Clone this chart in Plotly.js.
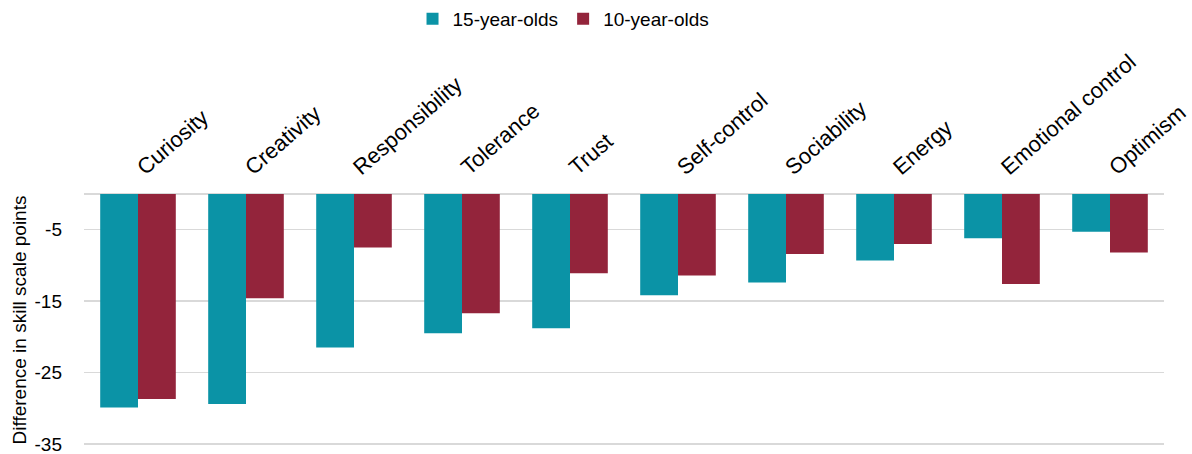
<!DOCTYPE html>
<html>
<head>
<meta charset="utf-8">
<script src="https://cdn.plot.ly/plotly-3.0.1.min.js"></script>
<style>
  html, body { margin: 0; padding: 0; background: #ffffff; }
  #chart { width: 1192px; height: 454px; }
</style>
</head>
<body>
<div id="chart"></div>
<script>
// Skill categories along the top axis
const skills = ['Curiosity', 'Creativity', 'Responsibility', 'Tolerance', 'Trust',
  'Self-control', 'Sociability', 'Energy', 'Emotional control', 'Optimism'];

// Difference in skill scale points, by age cohort
const olds15 = [-29.9, -29.4, -21.5, -19.5, -18.8, -14.2, -12.4, -9.3, -6.2, -5.3];
const olds10 = [-28.7, -14.6, -7.5, -16.7, -11.1, -11.4, -8.4, -7.0, -12.6, -8.2];

// Value-axis ticks, written with a plain hyphen
const yTickVals = [-5, -15, -25, -35];
const yTickText = ['-5', '-15', '-25', '-35'];

const seriesNames = ['15-year-olds', '10-year-olds'];
const yTitle = 'Difference in skill scale points';

const FONT = '"Liberation Sans Narrow", "Arial Narrow", "Liberation Sans", Arial, sans-serif';
const FS = 19;
const TEAL = '#0b93a6';
const WINE = '#93243b';
const GRID = '#d9d9d9';

const traces = [
  { type: 'bar', name: seriesNames[0], x: skills, y: olds15,
    marker: { color: TEAL, line: { width: 0 } }, hoverinfo: 'x+y' },
  { type: 'bar', name: seriesNames[1], x: skills, y: olds10,
    marker: { color: WINE, line: { width: 0 } }, hoverinfo: 'x+y' }
];

const layout = {
  width: 1192,
  height: 454,
  margin: { l: 84, r: 28, t: 194, b: 8, pad: 0 },
  paper_bgcolor: '#ffffff',
  plot_bgcolor: '#ffffff',
  font: { family: FONT, size: FS, color: '#000000' },
  barmode: 'group',
  bargap: 0.3,
  bargroupgap: 0,
  showlegend: true,
  legend: {
    orientation: 'h',
    xref: 'paper', x: 0.444, xanchor: 'center',
    yref: 'container', y: 1.0, yanchor: 'top',
    font: { family: FONT, size: FS, color: '#000000' },
    itemwidth: 30,
    traceorder: 'normal',
    bgcolor: 'rgba(0,0,0,0)'
  },
  xaxis: {
    side: 'top',
    type: 'category',
    tickangle: -41,
    ticks: '',
    showline: false,
    showgrid: false,
    ticklabelstandoff: 10,
    tickfont: { family: FONT, size: 22, color: '#000000' },
    automargin: false
  },
  yaxis: {
    range: [-35.3, 0],
    tickmode: 'array',
    tickvals: yTickVals,
    ticktext: yTickText,
    ticks: '',
    showline: false,
    showgrid: true,
    gridcolor: GRID,
    gridwidth: 1.5,
    zeroline: true,
    zerolinecolor: GRID,
    zerolinewidth: 1.5,
    ticklabelstandoff: 21,
    ticklabeloverflow: 'allow',
    tickfont: { family: FONT, size: FS, color: '#000000' },
    title: { text: yTitle, font: { family: FONT, size: FS, color: '#000000' }, standoff: 2 },
    automargin: false
  }
};

Plotly.newPlot('chart', traces, layout, { displayModeBar: false, staticPlot: true });
</script>
</body>
</html>
